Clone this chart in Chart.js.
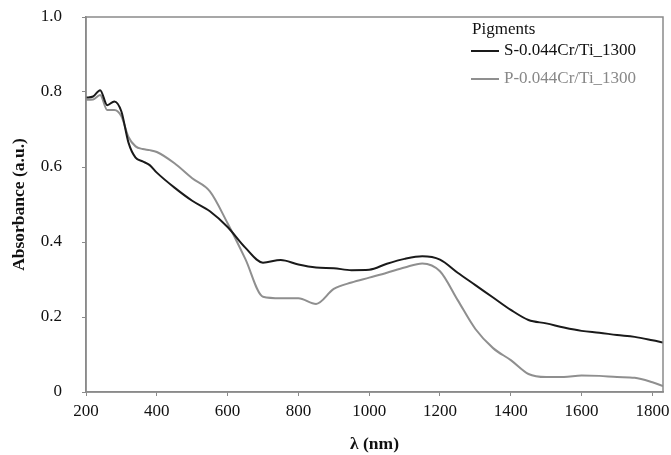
<!DOCTYPE html>
<html>
<head>
<meta charset="utf-8">
<script src="https://cdn.jsdelivr.net/npm/chart.js@4.4.1/dist/chart.umd.min.js"></script>
<style>
  body { margin: 0; background: #fff; }
  #wrap { width: 671px; height: 455px; }
</style>
</head>
<body>
<div id="wrap"><canvas id="absChart" width="671" height="455"></canvas></div>
<script>
// panjang gelombang (nm)
const wavelengths = [200, 220, 240, 260, 280, 300, 320, 340, 360, 380, 400, 450, 500, 550, 600, 650, 700, 750, 800, 850,
  900, 950, 1000, 1050, 1100, 1150, 1200, 1250, 1300, 1350, 1400, 1450, 1500, 1550, 1600, 1650, 1700, 1750, 1800, 1830];

const seriesS = [0.785, 0.788, 0.805, 0.765, 0.775, 0.748, 0.665, 0.625, 0.615, 0.605, 0.585, 0.545, 0.51, 0.482, 0.44, 0.385, 0.345, 0.352, 0.34, 0.332,
  0.33, 0.325, 0.326, 0.342, 0.355, 0.362, 0.353, 0.318, 0.285, 0.252, 0.219, 0.192, 0.183, 0.172, 0.163, 0.158, 0.152, 0.147, 0.138, 0.132];

const seriesP = [0.779, 0.78, 0.792, 0.752, 0.752, 0.735, 0.68, 0.655, 0.648, 0.645, 0.64, 0.61, 0.57, 0.535, 0.45, 0.355, 0.254, 0.25, 0.25, 0.235,
  0.275, 0.292, 0.305, 0.318, 0.332, 0.343, 0.322, 0.245, 0.168, 0.117, 0.085, 0.048, 0.04, 0.04, 0.044, 0.043, 0.04, 0.038, 0.026, 0.016];

const xTicks = [200, 400, 600, 800, 1000, 1200, 1400, 1600, 1800];
const yTicks = [0, 0.2, 0.4, 0.6, 0.8, 1.0];

const seriesLabels = ['S-0.044Cr/Ti_1300', 'P-0.044Cr/Ti_1300'];
const legendTitle = 'Pigments';

const SERIF = '"Liberation Serif", "DejaVu Serif", serif';
const axisGray = '#8a8a8a';

const toPoints = (vals) => vals.map((v, i) => ({ x: wavelengths[i], y: v }));

// kotak di sekeliling area plot
const frameBox = {
  id: 'frameBox',
  afterDatasetsDraw(chart) {
    const { ctx, chartArea: a } = chart;
    ctx.save();
    ctx.strokeStyle = axisGray;
    ctx.lineWidth = 1.5;
    ctx.strokeRect(a.left, a.top, a.right - a.left, a.bottom - a.top);
    ctx.restore();
  }
};

// legenda di dalam area plot (kanan atas)
const innerLegend = {
  id: 'innerLegend',
  afterDraw(chart) {
    const { ctx } = chart;
    const x0 = 471;
    ctx.save();
    ctx.font = '17px ' + SERIF;
    ctx.textBaseline = 'middle';
    ctx.textAlign = 'left';
    ctx.fillStyle = '#111';
    ctx.fillText(legendTitle, x0 + 1, 30);
    chart.data.datasets.forEach((ds, i) => {
      const y = 51 + i * 28;
      ctx.strokeStyle = ds.borderColor;
      ctx.lineWidth = ds.borderWidth;
      ctx.beginPath();
      ctx.moveTo(x0, y);
      ctx.lineTo(x0 + 28, y);
      ctx.stroke();
      ctx.fillStyle = i === 0 ? '#111' : '#888';
      ctx.fillText(ds.label, x0 + 33, y);
    });
    ctx.restore();
  }
};

new Chart(document.getElementById('absChart').getContext('2d'), {
  type: 'line',
  data: {
    datasets: [
      { label: seriesLabels[0], data: toPoints(seriesS), borderColor: '#1a1a1a', borderWidth: 2, pointRadius: 0, cubicInterpolationMode: 'monotone' },
      { label: seriesLabels[1], data: toPoints(seriesP), borderColor: '#8f8f8f', borderWidth: 2, pointRadius: 0, cubicInterpolationMode: 'monotone' }
    ]
  },
  options: {
    responsive: false,
    animation: false,
    layout: { padding: { top: 17, right: 8, left: 0, bottom: 0 } },
    plugins: { legend: { display: false }, tooltip: { enabled: false } },
    scales: {
      x: {
        type: 'linear',
        min: 200,
        max: 1830,
        afterBuildTicks: (s) => { s.ticks = xTicks.map(v => ({ value: v })); },
        afterFit: (s) => { s.height = 63; s.paddingLeft = 0; s.paddingRight = 0; },
        border: { color: axisGray, width: 1.5 },
        grid: { drawOnChartArea: false, drawTicks: true, tickLength: 4, color: axisGray },
        ticks: { padding: 5, color: '#111', font: { family: SERIF, size: 17 }, callback: (v) => String(v) },
        title: { display: true, text: 'λ (nm)', color: '#111', padding: { top: 0, bottom: 0 }, font: { family: SERIF, size: 17.5, weight: 'bold' } }
      },
      y: {
        min: 0,
        max: 1,
        afterBuildTicks: (s) => { s.ticks = yTicks.map(v => ({ value: v })); },
        afterFit: (s) => { s.width = 86; s.paddingTop = 0; s.paddingBottom = 0; },
        border: { color: axisGray, width: 1.5 },
        grid: { drawOnChartArea: false, drawTicks: true, tickLength: 4, color: axisGray },
        ticks: {
          padding: 20, color: '#111', font: { family: SERIF, size: 17 },
          callback: (v) => v === 0 ? '0' : v.toFixed(1)
        },
        title: { display: true, text: 'Absorbance (a.u.)', color: '#111', padding: { top: 9, bottom: 0 }, font: { family: SERIF, size: 17.5, weight: 'bold' } }
      }
    }
  },
  plugins: [frameBox, innerLegend]
});
</script>
</body>
</html>
